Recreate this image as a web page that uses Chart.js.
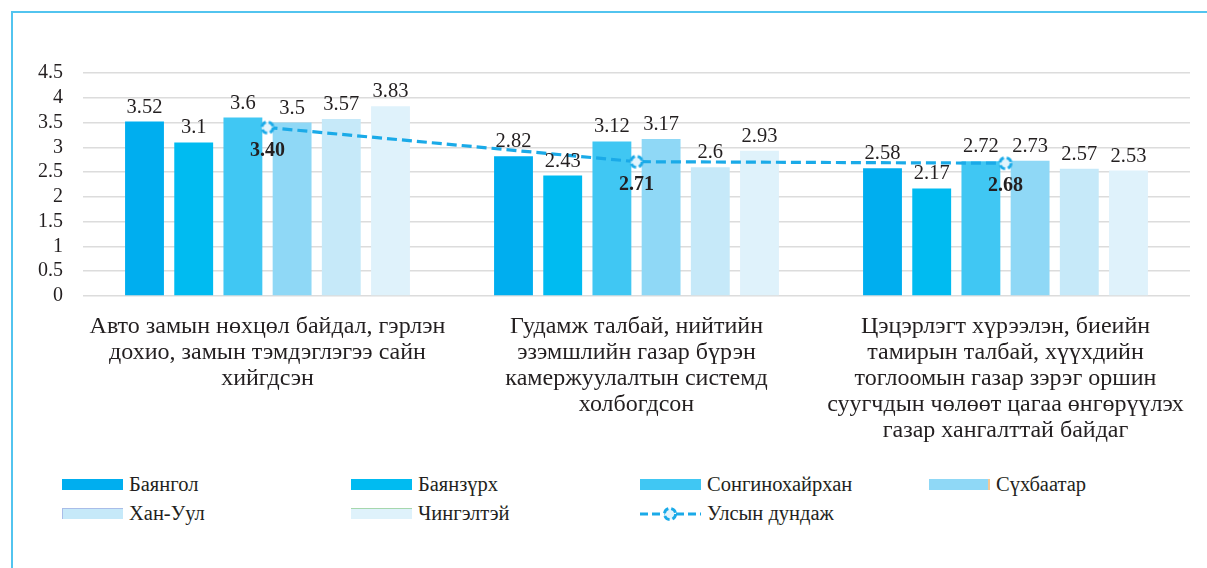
<!DOCTYPE html>
<html>
<head>
<meta charset="utf-8">
<script src="https://cdn.jsdelivr.net/npm/chart.js@4.4.1/dist/chart.umd.min.js"></script>
<style>
    body { margin: 0; background: #fff; }
    #wrap { position: relative; width: 1207px; height: 568px; overflow: hidden; background: #fff; }
    #frame { position: absolute; left: 11px; top: 11px; width: 1400px; height: 800px; border: 2px solid #52c4ef; box-sizing: border-box; }
    #box { position: absolute; left: 0; top: 0; width: 1207px; height: 460px; }
    .leg { position: absolute; display: flex; align-items: center; height: 11px; font-family: 'Liberation Serif', serif; font-size: 20.5px; color: #231f20; white-space: nowrap; }
    .leg span.sw { display: inline-block; width: 61px; height: 11px; margin-right: 6px; box-sizing: border-box; }
    .leg canvas { margin-right: 6px; }
</style>
</head>
<body>
<div id="wrap">
    <div id="frame"></div>
    <div id="box"><canvas id="myChart"></canvas></div>
    <div id="legend"></div>
</div>
<script>
// categories (x axis, already broken into lines like the original)
var categories = [
    ['Авто замын нөхцөл байдал, гэрлэн', 'дохио, замын тэмдэглэгээ сайн', 'хийгдсэн'],
    ['Гудамж талбай, нийтийн', 'эзэмшлийн газар бүрэн', 'камержуулалтын системд', 'холбогдсон'],
    ['Цэцэрлэгт хүрээлэн, биеийн', 'тамирын талбай, хүүхдийн', 'тоглоомын газар зэрэг оршин', 'суугчдын чөлөөт цагаа өнгөрүүлэх', 'газар хангалттай байдаг']
];
var districts = ['Баянгол', 'Баянзүрх', 'Сонгинохайрхан', 'Сүхбаатар', 'Хан-Уул', 'Чингэлтэй'];
var bayangol = [3.52, 2.82, 2.58];
var bayanzurkh = [3.1, 2.43, 2.17];
var songinokhairkhan = [3.6, 3.12, 2.72];
var sukhbaatar = [3.5, 3.17, 2.73];
var khanUul = [3.57, 2.6, 2.57];
var chingeltei = [3.83, 2.93, 2.53];
var avgLabel = 'Улсын дундаж';
var nationalAvg = [3.40, 2.71, 2.68];
var yMax = 4.5;
var yStep = 0.5;

var barColors = ['#00aeef', '#00bbf1', '#40c7f3', '#8fd8f6', '#c6e9f9', '#dff2fb'];
// thin edges the legend swatches have in the original
var swatchEdges = ['', '', '', 'border-right:2px solid #f3c896', 'border-left:1px solid #a9bde8;border-top:1px solid #a9bde8', 'border-top:1px solid #a6d7ad'];
var lineColor = '#1aaae8';
var serif = "'Liberation Serif'";
var textColor = '#231f20';

// dashed ring marker, used for the line points and for the legend
function makeMarker() {
    var c = document.createElement('canvas');
    c.width = 16; c.height = 16;
    var ctx = c.getContext('2d');
    ctx.beginPath();
    ctx.arc(8, 8, 5.6, 0, Math.PI * 2);
    ctx.fillStyle = '#e3f4fc';
    ctx.fill();
    ctx.setLineDash([6, 3]);
    ctx.lineWidth = 2.8;
    ctx.strokeStyle = lineColor;
    ctx.stroke();
    return c;
}
var marker = makeMarker();

var barSets = [bayangol, bayanzurkh, songinokhairkhan, sukhbaatar, khanUul, chingeltei];
var datasets = [];
datasets.push({
    type: 'line',
    label: avgLabel,
    data: nationalAvg,
    borderColor: lineColor,
    borderWidth: 3.2,
    borderDash: [10, 5],
    pointStyle: marker,
    pointRadius: 6,
    fill: false,
    order: 0
});
barSets.forEach(function (vals, i) {
    datasets.push({
        type: 'bar',
        label: districts[i],
        data: vals,
        backgroundColor: barColors[i],
        categoryPercentage: 0.8,
        barPercentage: 0.79,
        order: 1
    });
});

// value labels above bars, bold labels under the average points
const valueLabels = {
    id: 'valueLabels',
    afterDatasetsDraw(chart) {
        const ctx = chart.ctx;
        ctx.save();
        ctx.fillStyle = textColor;
        ctx.textAlign = 'center';
        ctx.textBaseline = 'alphabetic';
        chart.data.datasets.forEach(function (ds, i) {
            const meta = chart.getDatasetMeta(i);
            meta.data.forEach(function (el, j) {
                if (ds.type === 'line') {
                    ctx.font = 'bold 20px ' + serif;
                    ctx.fillText(ds.data[j].toFixed(2), el.x, el.y + 28);
                } else {
                    ctx.font = '20.5px ' + serif;
                    ctx.fillText(String(ds.data[j]), el.x, el.y - 9);
                }
            });
        });
        ctx.restore();
    }
};

const myChart = new Chart(document.getElementById('myChart'), {
    data: {
        labels: categories,
        datasets: datasets
    },
    options: {
        responsive: true,
        maintainAspectRatio: false,
        animation: false,
        events: [],
        layout: { padding: { top: 73, right: 17, left: 0, bottom: 0 } },
        plugins: {
            legend: { display: false },
            tooltip: { enabled: false }
        },
        scales: {
            x: {
                grid: { display: false, drawTicks: false },
                border: { display: false },
                ticks: {
                    color: textColor,
                    font: { family: serif, size: 24, lineHeight: 26 / 24 },
                    padding: 18,
                    maxRotation: 0,
                    autoSkip: false
                },
                afterFit: function (scale) { scale.height = 164; }
            },
            y: {
                min: 0,
                max: yMax,
                grid: { color: '#dcdcdc', lineWidth: 1.5, drawTicks: false },
                border: { display: false },
                ticks: {
                    stepSize: yStep,
                    autoSkip: false,
                    color: textColor,
                    font: { family: serif, size: 20 },
                    padding: 20,
                    callback: function (v) { return String(v); }
                },
                afterFit: function (scale) { scale.width = 83; }
            }
        }
    },
    plugins: [valueLabels]
});

// legend in four fixed columns, like the original
function buildLegend(chart) {
    const holder = document.getElementById('legend');
    const order = chart.data.datasets.filter(function (d) { return d.type === 'bar'; })
        .concat(chart.data.datasets.filter(function (d) { return d.type === 'line'; }));
    order.forEach(function (ds, i) {
        const item = document.createElement('div');
        item.className = 'leg';
        item.style.left = (62 + (i % 4) * 289) + 'px';
        item.style.top = (479 + Math.floor(i / 4) * 29) + 'px';
        if (ds.type === 'line') {
            const c = document.createElement('canvas');
            c.width = 61; c.height = 20;
            const g = c.getContext('2d');
            g.strokeStyle = lineColor;
            g.lineWidth = 3;
            g.setLineDash([8, 4]);
            g.beginPath();
            g.moveTo(0, 10); g.lineTo(61, 10);
            g.stroke();
            g.drawImage(marker, 22, 2);
            item.appendChild(c);
        } else {
            const sw = document.createElement('span');
            sw.className = 'sw';
            sw.style.cssText = swatchEdges[i];
            sw.style.background = ds.backgroundColor;
            item.appendChild(sw);
        }
        const t = document.createElement('span');
        t.textContent = ds.label;
        item.appendChild(t);
        holder.appendChild(item);
    });
}
buildLegend(myChart);
</script>
</body>
</html>
